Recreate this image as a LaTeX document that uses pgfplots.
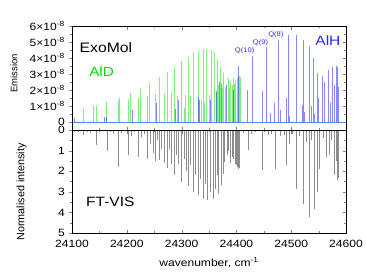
\documentclass[border=0pt]{standalone}
\usepackage{pgfplots}
\pgfplotsset{compat=1.18}
\usepackage{fontspec}
\setmainfont{Liberation Sans}[FakeStretch=1.15]
\newfontfamily\rotfont{Liberation Sans}
\definecolor{alh}{RGB}{40,40,255}
\definecolor{ald}{RGB}{0,225,0}
\definecolor{base}{RGB}{90,130,255}
\begin{document}
\begin{tikzpicture}
\useasboundingbox (-72pt,-144pt) rectangle (294pt,130pt);
\pgfplotsset{
  every tick label/.append style={font=\fontsize{10.5}{12}\selectfont},
  /pgf/number format/assume math mode=true,
  scaled ticks=false,
  every axis/.append style={line width=0.7pt, major tick length=3.5pt, minor tick length=2pt},
}
% ---------------- top panel ----------------
\begin{axis}[at={(0,0)}, anchor=south west, width=274pt, height=104pt, scale only axis,
  xmin=24100, xmax=24600, ymin=-0.5, ymax=6,
  xtick=\empty, ytick={0,1,2,3,4,5,6},
  yticklabels={0,1×10\textsuperscript{-8},2×10\textsuperscript{-8},3×10\textsuperscript{-8},4×10\textsuperscript{-8},5×10\textsuperscript{-8},6×10\textsuperscript{-8}},
  minor y tick num=1, ytick pos=left, tick align=outside,
  ylabel={\rotfont\fontsize{9.5}{11}\selectfont Emission},
  ylabel style={at={(axis description cs:-0.212,0.543)}, anchor=center},
  clip=true]
\addplot[ald, opacity=0.5, line width=0.85pt, ycomb, mark=none] table {
24120.6 0.88
24139 1.0
24144 1.0
24163 1.25
24184.5 1.3
24186 1.5
24203.4 1.44
24206 1.8
24221 1.5
24225 2.1
24237 1.6
24242 2.45
24252 1.75
24259 2.8
24268 1.8
24274.5 3.15
24281 1.83
24287 3.45
24293 1.6
24299.5 3.8
24305.6 0.87
24307.5 1.7
24311.7 4.05
24316 1.6
24320.8 4.3
24331 4.4
24336 1.37
24340 4.55
24342 1.2
24346 4.55
24350 1.7
24354 4.5
24360 4.35
24363 2.0
24365 3.9
24368 2.3
24371 3.45
24374 2.1
24377 3.05
24380 2.2
24384.7 2.73
24387.7 2.1
24389.6 2.5
24392 2.3
24395 2.73
24396 2.4
24398.7 2.6
24399 2.5
24401 2.7
24402 2.75
24403 2.8
24404 2.8
24405 2.85
24406 2.83
24407 2.8
};
\addplot[alh, opacity=0.55, line width=0.85pt, ycomb, mark=none] table {
24103.6 0.23
24160 0.33
24163 0.33
24211 0.75
24254.5 1.17
24288 0.8
24294.7 1.37
24330 1.58
24332 1.37
24352 1.4
24363 1.9
24369.5 2.52
24372 2.4
24381 2.3
24393.8 2.0
24403 3.5
24421 2.0
24430 4.1
24447 1.95
24454.6 4.7
24462 0.54
24468.6 1.17
24476 5.1
24480 0.75
24491 1.48
24494.8 5.44
24497 0.4
24509 5.44
24520 1.06
24522 5.1
24525 0.6
24532.5 4.72
24536 1.0
24541 4.0
24543 0.5
24547.6 3.06
24550 1.5
24557 2.9
24561 2.5
24568 3.25
24571 1.2
24576 3.45
24578 2.3
24582 3.5
24585 3.45
24587 2.2
};
\addplot[base, line width=0.8pt, mark=none] coordinates {(24100,0) (24600,0)};
\node[font=\fontsize{13.7}{15}\selectfont] at (axis cs:24162,4.63) {ExoMol};
\node[font=\fontsize{13.3}{15}\selectfont, text=ald] at (axis cs:24154,3.17) {AlD};
\node[font=\fontsize{13.5}{15}\selectfont, text=alh] at (axis cs:24567,5.06) {AlH};
\node[font=\fontsize{6.6}{8}\selectfont, text=alh] at (axis cs:24415,4.47) {Q(10)};
\node[font=\fontsize{6.6}{8}\selectfont, text=alh] at (axis cs:24444,4.97) {Q(9)};
\node[font=\fontsize{6.6}{8}\selectfont, text=alh] at (axis cs:24472,5.44) {Q(8)};
\end{axis}
\begin{axis}[at={(0,0)}, anchor=south west, width=274pt, height=104pt, scale only axis,
  xmin=24100, xmax=24600, ymin=-0.5, ymax=6,
  xtick={24100,24200,24300,24400,24500,24600}, minor x tick num=1,
  ytick={0,1,2,3,4,5,6}, minor y tick num=1,
  xticklabels={}, yticklabels={}, xtick pos=both, ytick pos=right, tick align=inside]
\end{axis}
% ---------------- bottom panel ----------------
\begin{axis}[at={(0,0)}, anchor=north west, width=274pt, height=103pt, scale only axis,
  xmin=24100, xmax=24600, ymin=0, ymax=5, y dir=reverse,
  xtick=\empty, ytick={0,1,2,3,4,5}, yticklabels={0,1,2,3,4,5},
  minor y tick num=1, ytick pos=left, tick align=outside,
  ylabel={\rotfont\fontsize{10.8}{12}\selectfont Normalised intensity},
  ylabel style={at={(axis description cs:-0.184,0.40)}, anchor=center}]
\addplot[black, opacity=0.45, line width=0.85pt, ycomb, mark=none] table {
24104 0.08
24112 0.12
24121 0.24
24128 0.1
24133 0.15
24145 0.73
24150 0.1
24164 1.0
24170 0.12
24176 0.2
24184.5 1.82
24190 0.15
24203 1.22
24208 0.3
24214 0.12
24221 1.3
24226 0.35
24232 0.2
24237 1.42
24243 0.66
24248 1.1
24252 1.52
24256 0.5
24260 1.47
24264 0.9
24268 1.62
24274 1.84
24277 0.9
24281 1.64
24287 2.17
24291 1.2
24294 1.64
24299 2.5
24305 1.4
24309 2.0
24312 2.72
24316 1.7
24321 3.0
24326 2.2
24331 3.17
24335 2.4
24339 3.37
24343 2.6
24347 3.41
24352 3.0
24358 3.37
24362 2.85
24365 2.2
24368 3.09
24372 2.69
24376 2.12
24379 1.55
24383 1.2
24386 1.0
24390 1.59
24393 1.3
24395 1.4
24398 1.64
24400 1.72
24402 1.8
24403 1.75
24404 1.88
24405 1.85
24406 1.7
24412 0.15
24422 0.99
24428 0.2
24435 0.1
24447 1.96
24458 0.26
24464 0.2
24471 1.88
24481 0.3
24488 0.25
24492 1.72
24496 0.66
24503 0.2
24510 2.85
24515 0.3
24522 3.58
24527 0.6
24532.5 4.22
24537 0.5
24541.6 3.82
24547.5 3.0
24552 1.88
24558 0.4
24565 1.31
24570 1.23
24574 0.5
24578 2.2
24582 1.5
24584 2.44
24586 2.35
};
\addplot[black, line width=1pt, mark=none] coordinates {(24100,0) (24600,0)};
\node[font=\fontsize{13.5}{15}\selectfont] at (axis cs:24170,3.48) {FT-VIS};
\end{axis}
\begin{axis}[at={(0,0)}, anchor=north west, width=274pt, height=103pt, scale only axis,
  xmin=24100, xmax=24600, ymin=0, ymax=5, y dir=reverse,
  xtick={24100,24200,24300,24400,24500,24600},
  xticklabels={24100,24200,24300,24400,24500,24600}, minor x tick num=1,
  ytick={0,1,2,3,4,5}, minor y tick num=1, yticklabels={},
  xtick pos=both, ytick pos=right, tick align=inside,
  xticklabel style={yshift=-3pt},
  xlabel={\fontsize{10.5}{12}\selectfont wavenumber, cm\textsuperscript{-1}},
  xlabel style={at={(axis description cs:0.5,0)}, yshift=-30pt, anchor=center}]
\end{axis}
\end{tikzpicture}
\end{document}
